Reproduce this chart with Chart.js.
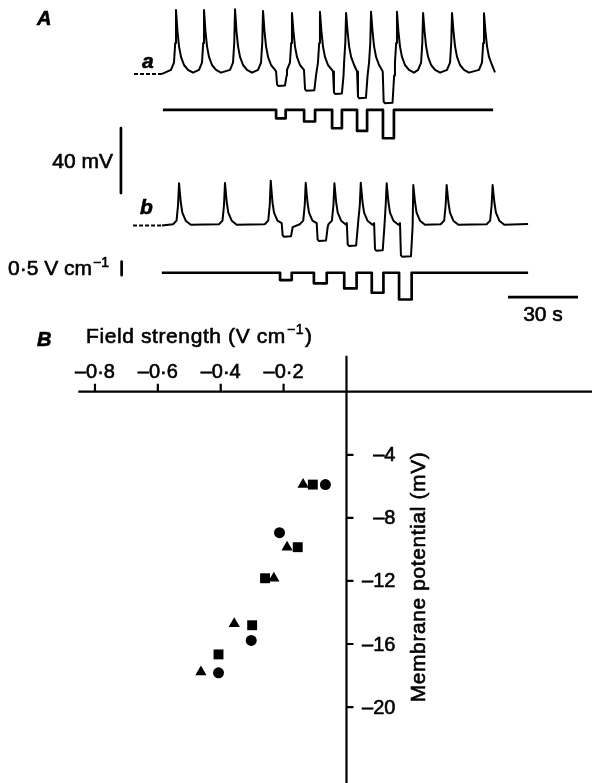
<!DOCTYPE html>
<html>
<head>
<meta charset="utf-8">
<script src="https://cdn.jsdelivr.net/npm/chart.js@4.4.1/dist/chart.umd.min.js"></script>
<style>
  html, body { margin: 0; padding: 0; background: #fff; }
  #wrap { position: relative; width: 592px; height: 783px; overflow: hidden; }
  canvas { position: absolute; left: 0; }
  #chartA { top: 0; }
  #chartB { top: 310px; }
</style>
</head>
<body>
<div id="wrap">
  <canvas id="chartB" width="592" height="473"></canvas>
  <canvas id="chartA" width="592" height="330"></canvas>
</div>
<script>
/* PANEL A: recordings, time in s, potential in mV above resting level */
const spikeTimesA = [6.0, 18.0, 31.3, 43.3, 55.7, 67.7, 78.9, 89.6, 100.7, 111.9, 124.3, 138.0];
const spikePeaksA = [39.4, 39.4, 39.8, 38.8, 37.5, 38.2, 37.5, 38.2, 38.2, 37.5, 37.5, 37.3];
const dipStartA = [48.9, 60.9, 73.3, 83.6, 94.6];
const dipEndA = [53.0, 65.6, 77.4, 87.7, 99.1];
const dipDepthA = [7.4, 10.3, 12.3, 15.0, 18.0];

const spikeTimesB = [7.3, 27.0, 46.6, 61.6, 73.9, 85.2, 96.3, 107.7, 122.0, 141.7];
const spikePeaksB = [26.0, 26.2, 27.6, 26.3, 26.0, 26.3, 26.0, 24.9, 24.9, 24.9];
const dipStartB = [51.3, 66.3, 79.2, 90.9, 102.0];
const dipEndB = [55.6, 70.6, 83.5, 94.9, 107.0];
const dipDepthB = [6.9, 9.5, 12.6, 15.5, 19.2];

// spike waveform: [dt (s), mV], null = the peak
const shapeA = [[-2.14, 2.5], [-0.86, 7.0], [-0.34, 19.0], [0, null], [0.64, 26.0], [1.29, 17.0], [2.14, 10.5], [3.43, 5.5], [5.14, 2.5], [7.29, 0.8]];
const shapeB = [[-2.57, 0.8], [-1.07, 3.0], [-0.43, 12.5], [0, null], [0.73, 14.5], [1.41, 8.0], [2.87, 3.0], [5.01, 0.5]];

const traceEndA = 142.7;
const traceEndB = 156.9;

// field pulses, V cm-1
const pulseStartA = [48.9, 60.9, 72.9, 83.6, 94.7];
const pulseEndA = [53.0, 65.6, 77.1, 87.9, 99.4];
const pulseAmpA = [0.31, 0.43, 0.68, 0.78, 1.05];
const pulseStartB = [50.6, 65.1, 78.1, 89.9, 101.6];
const pulseEndB = [55.6, 70.6, 83.4, 94.9, 107.0];
const pulseAmpB = [0.27, 0.39, 0.58, 0.74, 0.99];

const barMv = 40;
const barField = 0.5;
const barTime = 30;

/* PANEL B: field strength (V cm-1) vs membrane potential (mV) */
const triField = [-0.138, -0.189, -0.231, -0.357, -0.463];
const triPot = [-5.89, -9.86, -11.83, -14.71, -17.78];
const sqField = [-0.107, -0.155, -0.259, -0.300, -0.407];
const sqPot = [-5.89, -9.86, -11.83, -14.81, -16.66];
const cirField = [-0.067, -0.213, -0.303, -0.407];
const cirPot = [-5.89, -8.94, -15.77, -17.83];

const fieldTicks = [-0.8, -0.6, -0.4, -0.2];
const fieldTickLabels = ["–0·8", "–0·6", "–0·4", "–0·2"];
const potTicks = [-4, -8, -12, -16, -20];
const potTickLabels = ["–4", "–8", "–12", "–16", "–20"];

const FONT = '"Liberation Sans", Arial, Helvetica, sans-serif';

/* BUILD TRACES */
function buildTrace(times, peaks, shape, dStart, dEnd, dDepth, end, offset) {
  let pts = [[0, 0]];
  times.forEach((t, i) => {
    shape.forEach(([dt, v]) => pts.push([t + dt, v === null ? peaks[i] : v]));
  });
  // spike points hidden under a hyperpolarising pulse are dropped
  pts = pts.filter(([t]) => !dStart.some((s, j) => t >= s && t <= dEnd[j] + 0.4));
  dStart.forEach((s, j) => {
    pts.push([s, 1.5], [s + 0.4, -dDepth[j] + 1], [s + 0.9, -dDepth[j]],
             [dEnd[j] - 0.3, -dDepth[j] + 0.3], [dEnd[j] + 0.4, -1]);
  });
  pts = pts.filter(([t]) => t <= end);
  pts.push([end, 1]);
  pts.sort((p, q) => p[0] - q[0]);
  return pts.map(([x, y]) => ({ x, y: y + offset }));
}

function buildStim(starts, ends, amps, t0, t1, offset) {
  const pts = [{ x: t0, y: offset }];
  starts.forEach((s, i) => {
    pts.push({ x: s, y: offset }, { x: s, y: offset - amps[i] },
             { x: ends[i], y: offset - amps[i] }, { x: ends[i], y: offset });
  });
  pts.push({ x: t1, y: offset });
  return pts;
}

const line = (data, w, axis, dash) => ({
  data, yAxisID: axis || "y", showLine: true, borderColor: "#000",
  borderWidth: w, pointRadius: 0, borderDash: dash || [], tension: 0,
  borderJoinStyle: "round", borderCapStyle: "butt",
});

function drawText(ctx, txt, x, y, size, align, style) {
  ctx.font = (style || "") + " " + size + "px " + FONT;
  ctx.textAlign = align || "left";
  ctx.lineWidth = 0.6;
  ctx.strokeStyle = "#000";
  ctx.fillText(txt, x, y);
  ctx.strokeText(txt, x, y);
  return ctx.measureText(txt).width;
}

/* CHART A */
const labelsA = {
  id: "labelsA",
  afterDraw(chart) {
    const ctx = chart.ctx;
    ctx.save();
    ctx.fillStyle = "#000";
    ctx.textBaseline = "alphabetic";
    drawText(ctx, "A", 37, 25, 20, "left", "italic bold");
    drawText(ctx, "a", 142, 68, 21, "left", "italic bold");
    drawText(ctx, "b", 140, 214, 21, "left", "italic bold");
    drawText(ctx, "40 mV", 113, 168, 21, "right");
    const w = drawText(ctx, "0·5 V cm", 8, 275, 21, "left");
    drawText(ctx, "−1", 8 + w + 1, 267, 14, "left");
    drawText(ctx, "30 s", 543, 321, 21, "center");
    ctx.restore();
  },
};

new Chart(document.getElementById("chartA"), {
  type: "scatter",
  data: {
    datasets: [
      line(buildTrace(spikeTimesA, spikePeaksA, shapeA, dipStartA, dipEndA, dipDepthA, traceEndA, -45.5), 2),
      line(buildTrace(spikeTimesB, spikePeaksB, shapeB, dipStartB, dipEndB, dipDepthB, traceEndB, -138.8), 2),
      line(buildStim(pulseStartA, pulseEndA, pulseAmpA, 0.4, 141.9, -4.07), 2.7, "y2"),
      line(buildStim(pulseStartB, pulseEndB, pulseAmpB, -0.1, 156.9, -10.1), 2.7, "y2"),
      line([{ x: -12, y: -45.5 }, { x: 0, y: -45.5 }], 2, "y", [4, 2]),
      line([{ x: -12.4, y: -138.8 }, { x: 0, y: -138.8 }], 2, "y", [4, 2]),
      line([{ x: -17.6, y: -78.8 }, { x: -17.6, y: -78.8 - barMv }], 2.7),
      line([{ x: -17.3, y: -9.69 }, { x: -17.3, y: -9.69 - barField }], 2.7, "y2"),
      line([{ x: 148.3, y: -182.8 }, { x: 148.3 + barTime, y: -182.8 }], 2.7),
    ],
  },
  options: {
    responsive: false,
    animation: false,
    events: [],
    layout: { padding: 0 },
    plugins: { legend: { display: false }, tooltip: { enabled: false } },
    scales: {
      x: { type: "linear", min: -69.43, max: 184.29, display: false },
      y: { type: "linear", min: -203.08, max: 0, display: false },
      y2: { type: "linear", min: -12.22, max: 0, display: false },
    },
  },
  plugins: [labelsA],
});

/* CHART B */
const axesB = {
  id: "axesB",
  afterDraw(chart) {
    const ctx = chart.ctx;
    const xs = chart.scales.x;
    const ys = chart.scales.y;
    const x0 = xs.getPixelForValue(0);
    const y0 = ys.getPixelForValue(0);
    ctx.save();
    ctx.strokeStyle = "#000";
    ctx.fillStyle = "#000";
    ctx.lineWidth = 2.2;
    ctx.beginPath();
    ctx.moveTo(xs.getPixelForValue(-0.853), y0);
    ctx.lineTo(chart.width, y0);
    ctx.moveTo(x0, ys.getPixelForValue(2.28));
    ctx.lineTo(x0, chart.height);
    fieldTicks.forEach((v) => {
      const px = xs.getPixelForValue(v);
      ctx.moveTo(px, y0 - 8);
      ctx.lineTo(px, y0);
    });
    potTicks.forEach((v) => {
      const py = ys.getPixelForValue(v);
      ctx.moveTo(x0, py);
      ctx.lineTo(x0 + 7, py);
    });
    ctx.stroke();

    ctx.textBaseline = "alphabetic";
    fieldTicks.forEach((v, i) => {
      drawText(ctx, fieldTickLabels[i], xs.getPixelForValue(v), y0 - 14, 20, "center");
    });
    ctx.textBaseline = "middle";
    potTicks.forEach((v, i) => {
      drawText(ctx, potTickLabels[i], x0 + 49, ys.getPixelForValue(v) + 1, 20, "right");
    });

    ctx.textBaseline = "alphabetic";
    drawText(ctx, "B", 37, 36, 20, "left", "italic bold");
    ctx.letterSpacing = "0.6px";
    const w = drawText(ctx, "Field strength (V cm", 86, 33, 21, "left");
    const w2 = drawText(ctx, "−1", 86 + w + 1, 24, 14, "left");
    drawText(ctx, ")", 86 + w + w2 + 2, 33, 21, "left");

    ctx.translate(425, 267);
    ctx.rotate(-Math.PI / 2);
    drawText(ctx, "Membrane potential (mV)", 0, 0, 21, "center");
    ctx.restore();
  },
};

const pts = (xs, ys) => xs.map((x, i) => ({ x, y: ys[i] }));

new Chart(document.getElementById("chartB"), {
  type: "scatter",
  data: {
    datasets: [
      { data: pts(triField, triPot), pointStyle: "triangle", pointRadius: 6.5, backgroundColor: "#000", borderWidth: 0 },
      { data: pts(sqField, sqPot), pointStyle: "rect", pointRadius: 7, backgroundColor: "#000", borderWidth: 0 },
      { data: pts(cirField, cirPot), pointStyle: "circle", pointRadius: 5.5, backgroundColor: "#000", borderWidth: 0 },
    ],
  },
  options: {
    responsive: false,
    animation: false,
    events: [],
    layout: { padding: 0 },
    plugins: { legend: { display: false }, tooltip: { enabled: false } },
    scales: {
      x: { type: "linear", min: -1.0798, max: 0.7587, display: false },
      y: { type: "linear", min: -24.37, max: 4.738, display: false },
    },
  },
  plugins: [axesB],
});
</script>
</body>
</html>
